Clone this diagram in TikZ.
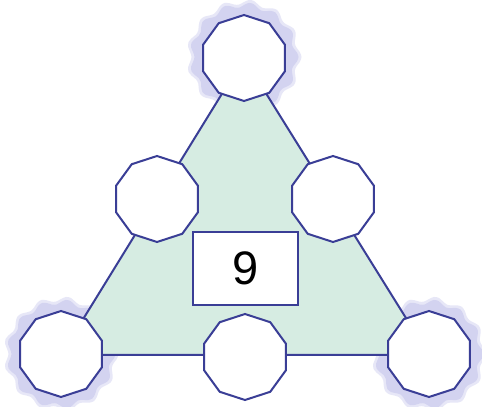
\documentclass[tikz,border=0pt]{standalone}
\usepackage{fontspec}
\setsansfont{Liberation Sans}
\usetikzlibrary{shapes.geometric}
\definecolor{edgeblue}{RGB}{58,62,150}
\definecolor{mint}{RGB}{214,236,226}
\definecolor{halo}{RGB}{196,196,236}
\tikzset{
  ring/.style={regular polygon, regular polygon sides=10, shape border rotate=18,
    minimum size=86pt, inner sep=0pt, draw=edgeblue, line width=2pt, fill=white},
  box/.style={rectangle, minimum width=105pt, minimum height=73pt, inner sep=0pt,
    draw=edgeblue, line width=1.6pt, fill=white, font=\sffamily\fontsize{47}{47}\selectfont},
}
\newcommand{\halo}[2]{%
  \fill[halo, opacity=0.4] plot[smooth cycle, samples=72, domain=0:355, variable=\t]
    ({#1+(55+2.5*cos(13*\t))*cos(\t)},{#2+(55+2.5*cos(13*\t))*sin(\t)});
  \fill[halo, opacity=0.55] plot[smooth cycle, samples=72, domain=0:355, variable=\t]
    ({#1+(52+2.5*cos(13*\t))*cos(\t)},{#2+(52+2.5*cos(13*\t))*sin(\t)});}
\begin{document}
\begin{tikzpicture}[x=1pt,y=1pt]
\useasboundingbox[fill=white] (0,0) rectangle (482,407);
\coordinate (A) at (244,349);
\coordinate (B) at (61,52);
\coordinate (C) at (429,52);
\halo{244}{350}
\halo{61}{53}
\halo{429}{53}
\filldraw[fill=mint, draw=edgeblue, line width=2pt, line join=round] (A) -- (B) -- (C) -- cycle;
\node[ring] (top) at (244,349) {};
\node[ring] (bl) at (61,53) {};
\node[ring] (br) at (429,53) {};
\node[ring] (ml) at (157,208) {};
\node[ring] (mr) at (333,208) {};
\node[ring] (bm) at (245,50) {};
\node[box] (c) at (245.5,138.5) {9};
\end{tikzpicture}
\end{document}
